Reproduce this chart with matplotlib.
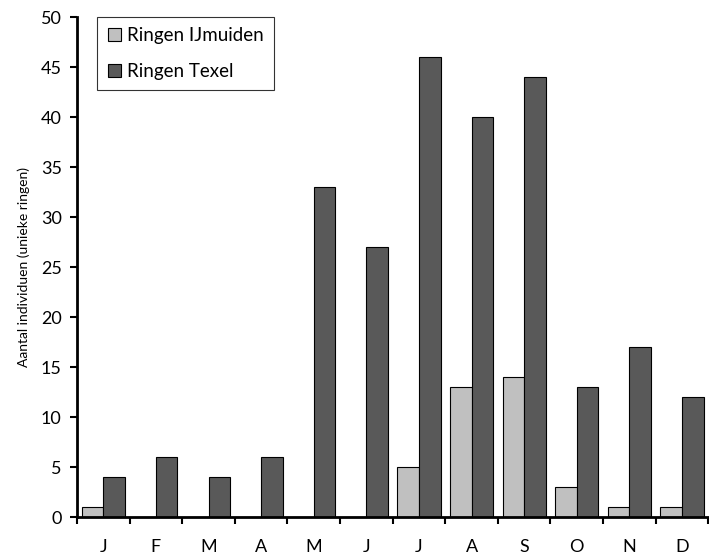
import matplotlib
matplotlib.use("Agg")
import matplotlib.pyplot as plt
import numpy as np

months = ["J", "F", "M", "A", "M", "J", "J", "A", "S", "O", "N", "D"]
ijmuiden = [1, 0, 0, 0, 0, 0, 5, 13, 14, 3, 1, 1]
texel = [4, 6, 4, 6, 33, 27, 46, 40, 44, 13, 17, 12]
yticks = [0, 5, 10, 15, 20, 25, 30, 35, 40, 45, 50]

plt.rcParams['font.family'] = ['Lato', 'DejaVu Sans']

fig = plt.figure(figsize=(7.09, 5.59), dpi=100)
ax = fig.add_axes([77/709, 42/559, 1 - 77/709 - 0.001, 500/559])

x = np.arange(len(months))
w = 0.41
ax.bar(x - w/2, ijmuiden, width=w, color="#C0C0C0", edgecolor="black", linewidth=0.8, label="Ringen IJmuiden")
ax.bar(x + w/2, texel, width=w, color="#595959", edgecolor="black", linewidth=0.8, label="Ringen Texel")

ax.set_xlim(-0.5, len(months) - 0.5)
ax.set_ylim(0, 50)
ax.set_yticks(yticks)
ax.set_yticklabels([str(v) for v in yticks], fontsize=13)
ax.set_xticks(np.arange(len(months) + 1) - 0.5)
ax.set_xticklabels([])
ax.set_xticks(x, minor=True)
ax.set_xticklabels(months, minor=True, fontsize=13)
ax.tick_params(axis='x', which='minor', length=0, pad=16)
ax.tick_params(axis='x', which='major', direction='out', length=5, width=1.5)
ax.tick_params(axis='y', direction='out', length=5, width=1.5, pad=6)

for s in ["top", "right"]:
    ax.spines[s].set_visible(False)
for s in ["left", "bottom"]:
    ax.spines[s].set_linewidth(2)

ax.set_ylabel("Aantal individuen (unieke ringen)", fontsize=10, labelpad=8)

leg = ax.legend(loc="upper left", bbox_to_anchor=(0.032, 1.0), borderaxespad=0, fontsize=13.5, frameon=True,
                fancybox=False, edgecolor="black", handlelength=0.7, handleheight=0.7,
                handletextpad=0.35, labelspacing=1.0, borderpad=0.55)
leg.get_frame().set_linewidth(0.8)

fig.savefig("out.png", dpi=100)
